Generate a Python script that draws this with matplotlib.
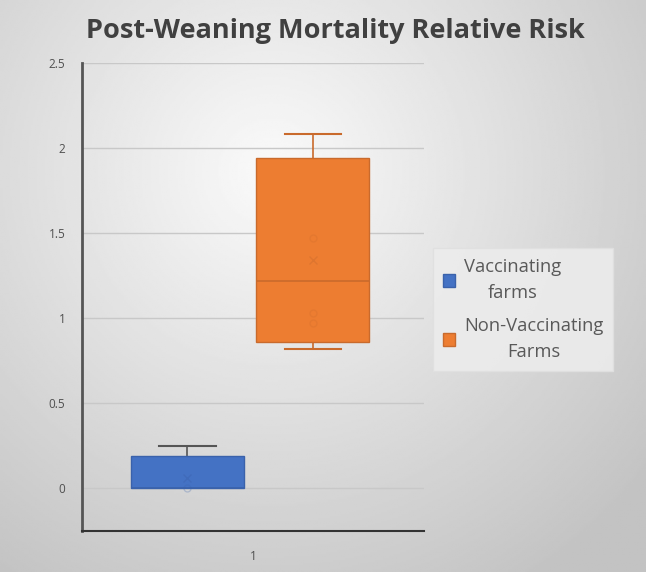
import numpy as np
import matplotlib.pyplot as plt
from matplotlib.patches import Patch

plt.rcParams['font.family'] = ['Open Sans', 'DejaVu Sans']

title = "Post-Weaning Mortality Relative Risk"
groups = ["Vaccinating\nfarms", "Non-Vaccinating\nFarms"]
colors = ["#4472C4", "#ED7D31"]
edge_colors = ["#3a62ab", "#c96a2c"]

# box plot statistics
q1 = [0.0, 0.86]
med = [0.0, 1.22]
q3 = [0.19, 1.94]
whislo = [0.0, 0.82]
whishi = [0.25, 2.08]
means = [0.06, 1.34]
# faint inner points
inner_pts = [[0.0], [1.47, 1.03, 0.97]]

fig = plt.figure(figsize=(6.46, 5.72), dpi=100)

# background gradient
bg = fig.add_axes([0, 0, 1, 1], zorder=-10)
yy, xx = np.mgrid[0:1:300j, 0:1:340j]
r = np.sqrt(((xx - 0.42) / 0.75) ** 2 + ((yy - 0.30) / 0.85) ** 2)
bg.imshow(250 - 55 * np.clip(r, 0, 1), cmap='gray', vmin=0, vmax=255,
          extent=[0, 1, 0, 1], aspect='auto', origin='upper')
bg.set_axis_off()

ax = fig.add_axes([0.127, 0.072, 0.53, 0.818])
ax.patch.set_alpha(0)

pos = [0.308, 0.674]
stats = []
for i in range(2):
    stats.append(dict(med=med[i], q1=q1[i], q3=q3[i], whislo=whislo[i],
                      whishi=whishi[i], mean=means[i], fliers=[]))

bp = ax.bxp(stats, positions=pos, widths=0.33, patch_artist=True,
            showmeans=False, showfliers=False, manage_ticks=False)
for i in range(2):
    bp['boxes'][i].set(facecolor=colors[i], edgecolor=edge_colors[i], linewidth=1)
    bp['medians'][i].set(color=edge_colors[i], linewidth=1.2)
    for w in bp['whiskers'][2 * i:2 * i + 2]:
        w.set(color=edge_colors[i] if i else "#555555", linewidth=1.2)
    for c in bp['caps'][2 * i:2 * i + 2]:
        c.set(color=edge_colors[i] if i else "#555555", linewidth=1.5)
    bp['boxes'][i].set_zorder(3)
    bp['medians'][i].set_zorder(4)
    ax.plot(pos[i], means[i], marker='x', color=edge_colors[i], alpha=0.4,
            markersize=6, zorder=5)
    ax.plot([pos[i]] * len(inner_pts[i]), inner_pts[i], 'o', mfc='none',
            mec=edge_colors[i], alpha=0.25, markersize=5, zorder=5)
bp['caps'][0].set_visible(False)
bp['whiskers'][0].set_visible(False)

ax.set_xlim(0, 1)
ax.set_ylim(-0.25, 2.5)
ax.set_yticks([0, 0.5, 1, 1.5, 2, 2.5])
ax.set_yticklabels(["0", "0.5", "1", "1.5", "2", "2.5"])
ax.set_xticks([0.5])
ax.set_xticklabels(["1"])
ax.tick_params(axis='both', length=0, labelsize=8.5, colors='#505050', pad=12)
ax.tick_params(axis='x', pad=14)
ax.yaxis.grid(True, color='#c8c8c8', linewidth=1)
ax.set_axisbelow(True)
for s in ['top', 'right']:
    ax.spines[s].set_visible(False)
ax.spines['left'].set(color='#555555', linewidth=2)
ax.spines['bottom'].set(color='#333333', linewidth=1.5)

fig.text(0.519, 0.946, title, ha='center', va='center', fontsize=19.5,
         fontweight='bold', color='#404040')

handles = [Patch(facecolor=colors[i], edgecolor=edge_colors[i]) for i in range(2)]
leg = fig.legend(handles, groups, loc='center left', bbox_to_anchor=(0.67, 0.459),
                 frameon=True, fontsize=13.2, handlelength=0.65, handleheight=0.65,
                 handletextpad=0.5, labelspacing=0.8, borderpad=0.55,
                 borderaxespad=0, fancybox=False)
leg.get_frame().set(facecolor='#ececec', edgecolor='#e0e0e0', alpha=0.9)
for t in leg.get_texts():
    t.set_color('#595959')
    t.set_multialignment('center')
    t.set_linespacing(1.6)

fig.savefig("out.png", dpi=100)
